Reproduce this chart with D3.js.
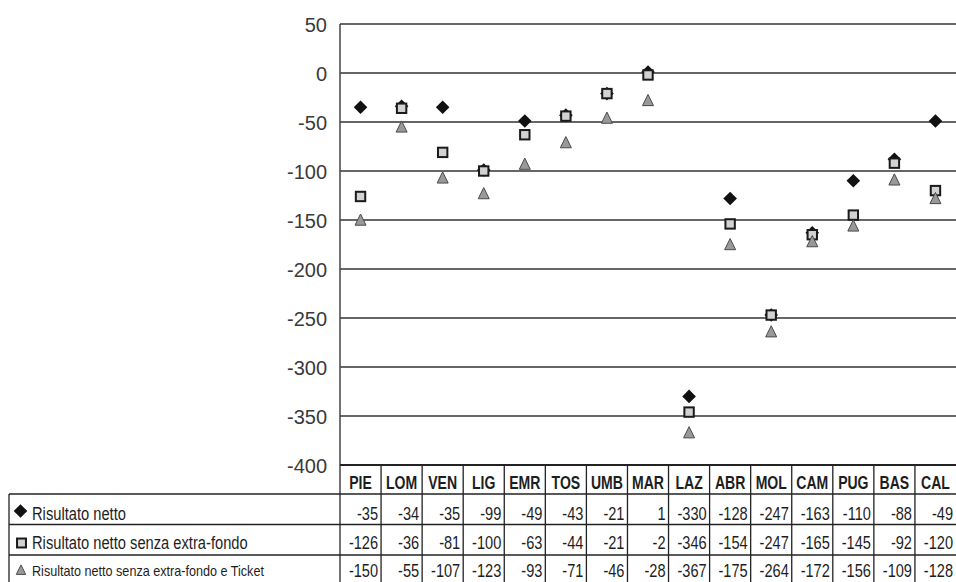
<!DOCTYPE html>
<html>
<head>
<meta charset="utf-8">
<script src="https://cdn.jsdelivr.net/npm/d3@7"></script>
<style>
  html, body { margin: 0; padding: 0; background: #fff; }
  svg { display: block; }
  text { font-family: "Liberation Sans", Arial, Helvetica, sans-serif; }
</style>
</head>
<body>
<svg id="chart" width="956" height="582"></svg>
<script>
// Regions (column headers)
const regions = ["PIE","LOM","VEN","LIG","EMR","TOS","UMB","MAR","LAZ","ABR","MOL","CAM","PUG","BAS","CAL"];

// Series
const seriesNames = [
  "Risultato netto",
  "Risultato netto senza extra-fondo",
  "Risultato netto senza extra-fondo e Ticket"
];
const risultatoNetto   = [-35, -34, -35, -99, -49, -43, -21, 1, -330, -128, -247, -163, -110, -88, -49];
const senzaExtraFondo  = [-126, -36, -81, -100, -63, -44, -21, -2, -346, -154, -247, -165, -145, -92, -120];
const senzaExtraTicket = [-150, -55, -107, -123, -93, -71, -46, -28, -367, -175, -264, -172, -156, -109, -128];

// Y axis ticks
const yTicks = [50, 0, -50, -100, -150, -200, -250, -300, -350, -400];

const series = [risultatoNetto, senzaExtraFondo, senzaExtraTicket];

const svg = d3.select("#chart");
const plotLeft = 340, plotRight = 956, plotTop = 24, plotBottom = 465;
const tableLeft = 9, rowLines = [494, 524.5, 555], rowBase = [520, 549, 577];

const x = d3.scaleBand().domain(regions).range([plotLeft, plotRight]).padding(0);
const y = d3.scaleLinear().domain([-400, 50]).range([plotBottom, plotTop]);

// Condensed-looking text: a regular face squeezed horizontally
function narrowText(g, tx, ty, str, size, sx, anchor, weight) {
  return g.append("text")
    .attr("transform", `translate(${tx},${ty}) scale(${sx},1)`)
    .attr("text-anchor", anchor || "start")
    .attr("font-size", size)
    .attr("font-weight", weight || "normal")
    .attr("fill", "#1e1e1e")
    .text(str);
}

// Horizontal gridlines
svg.append("g").selectAll("line").data(yTicks.filter(t => t !== -400)).join("line")
  .attr("x1", plotLeft).attr("x2", plotRight)
  .attr("y1", d => y(d)).attr("y2", d => y(d))
  .attr("stroke", "#333").attr("stroke-width", 1.5);

// Y axis labels
const yAxis = d3.axisLeft(y).tickValues(yTicks).tickSize(0).tickPadding(13).tickFormat(d => String(d));
const ya = svg.append("g").attr("transform", `translate(${plotLeft},0)`).call(yAxis);
ya.select(".domain").remove();
ya.selectAll("text")
  .attr("font-family", "'Liberation Sans', Arial, sans-serif")
  .attr("font-size", 20).attr("fill", "#3a3a3a")
  .attr("dy", "0.36em");

// Axis line and bottom line
svg.append("line").attr("x1", plotLeft).attr("x2", plotLeft).attr("y1", plotTop).attr("y2", 582)
  .attr("stroke", "#444").attr("stroke-width", 1.5);
svg.append("line").attr("x1", plotLeft).attr("x2", plotRight).attr("y1", plotBottom).attr("y2", plotBottom)
  .attr("stroke", "#222").attr("stroke-width", 2.2);

// Data table
const table = svg.append("g");
table.selectAll("line.col").data(regions.slice(1)).join("line").attr("class", "col")
  .attr("x1", d => x(d)).attr("x2", d => x(d))
  .attr("y1", plotBottom).attr("y2", 582)
  .attr("stroke", "#222").attr("stroke-width", 1.3);
rowLines.forEach(ly => {
  table.append("line")
    .attr("x1", tableLeft).attr("x2", plotRight)
    .attr("y1", ly).attr("y2", ly)
    .attr("stroke", "#222").attr("stroke-width", 1.3);
});
table.append("line").attr("x1", tableLeft).attr("x2", tableLeft)
  .attr("y1", rowLines[0]).attr("y2", 582).attr("stroke", "#222").attr("stroke-width", 1.3);

// header labels
regions.forEach(r => {
  narrowText(table, x(r) + x.bandwidth() / 2, 489, r, 18, 0.78, "middle", "bold");
});

// values
series.forEach((vals, si) => {
  vals.forEach((v, i) => {
    narrowText(table, x(regions[i]) + x.bandwidth() - 3, rowBase[si], String(v), 18, 0.81, "end");
  });
});

// legend labels
const legendFont = [[17.5, 0.84], [17.5, 0.84], [14.5, 0.87]];
seriesNames.forEach((name, si) => {
  narrowText(table, 32, rowBase[si] - (si === 2 ? 1 : 0), name, legendFont[si][0], legendFont[si][1], "start");
});

// Marker shapes
function drawMarker(g, kind, cx, cy, s) {
  if (kind === 0) {
    const h = 6.8 * s;
    g.append("path")
      .attr("d", `M${cx},${cy - h}L${cx + h},${cy}L${cx},${cy + h}L${cx - h},${cy}Z`)
      .attr("fill", "#111");
  } else if (kind === 1) {
    const h = 4.7 * s;
    g.append("rect").attr("x", cx - h).attr("y", cy - h).attr("width", 2 * h).attr("height", 2 * h)
      .attr("fill", "#d2d2d2").attr("stroke", "#1a1a1a").attr("stroke-width", 2);
  } else {
    g.append("path")
      .attr("d", `M${cx},${cy - 6 * s}L${cx + 5.5 * s},${cy + 5.2 * s}L${cx - 5.5 * s},${cy + 5.2 * s}Z`)
      .attr("fill", "#999").attr("stroke", "#4a4a4a").attr("stroke-width", 1);
  }
}

// Points: diamonds first, then squares, then triangles
const pts = svg.append("g");
[0, 1, 2].forEach(si => {
  series[si].forEach((v, i) => {
    drawMarker(pts, si, x(regions[i]) + x.bandwidth() / 2, y(v), 1);
  });
});

// Legend keys
drawMarker(svg, 0, 20.5, 511, 1);
drawMarker(svg, 1, 21.5, 543, 0.95);
drawMarker(svg, 2, 21, 570, 0.85);
</script>
</body>
</html>
